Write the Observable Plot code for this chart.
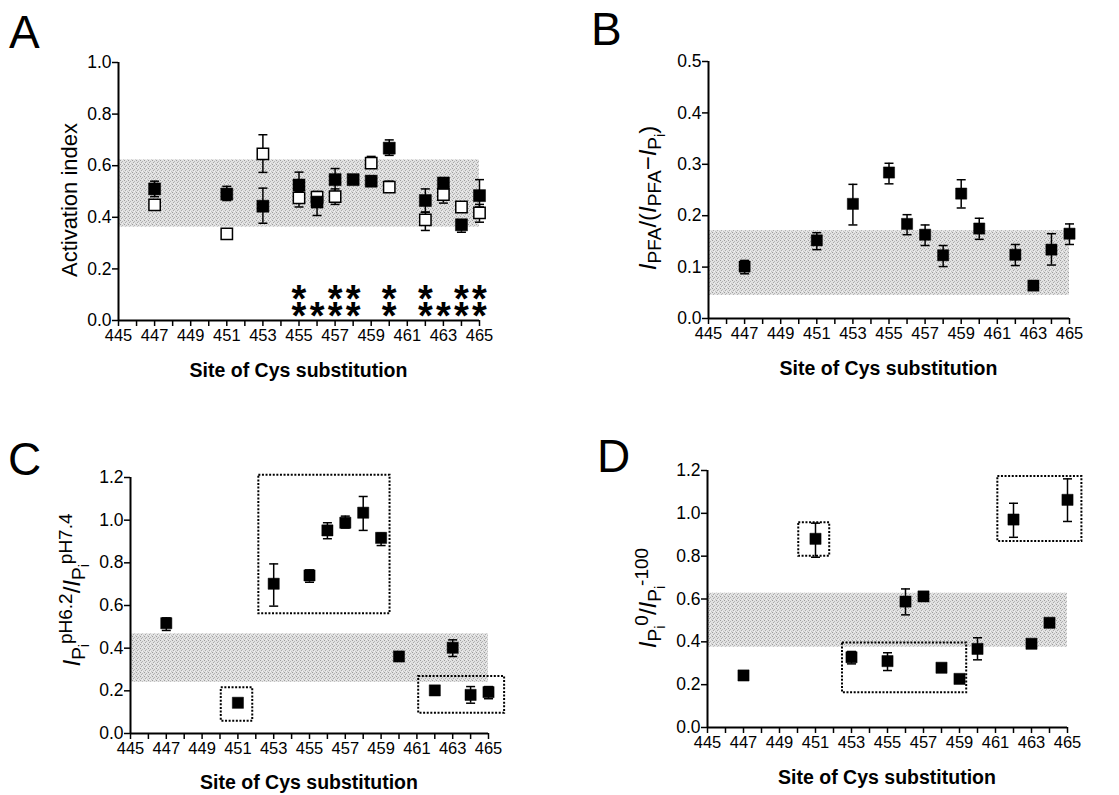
<!DOCTYPE html>
<html><head><meta charset="utf-8">
<script src="https://cdn.jsdelivr.net/npm/d3@7"></script>
<script src="https://cdn.jsdelivr.net/npm/@observablehq/plot@0.6"></script>
<style>
body{margin:0;background:#fff;}
#wrap{position:relative;width:1119px;height:795px;overflow:hidden;background:#fff;}
.panel{position:absolute;}
</style></head><body><div id="wrap"></div>
<script>
// ---------- data ----------
const siteTicks = d3.range(445, 466);

// Panel A: activation index (filled and open squares)
const sitesAf = [447, 451, 453, 455, 456, 457, 458, 459, 460, 462, 463, 464, 465];
const valAf   = [0.51, 0.49, 0.443, 0.525, 0.459, 0.546, 0.546, 0.54, 0.668, 0.465, 0.533, 0.371, 0.484];
const loAf    = [0.48, 0.465, 0.377, 0.49, 0.407, 0.50, null, 0.52, 0.64, 0.42, null, 0.342, 0.44];
const hiAf    = [0.54, 0.52, 0.513, 0.575, 0.50, 0.589, null, 0.56, 0.70, 0.51, null, 0.39, 0.546];
const sitesAo = [447, 451, 453, 455, 456, 457, 459, 460, 462, 463, 464, 465];
const valAo   = [0.448, 0.336, 0.646, 0.475, 0.478, 0.48, 0.61, 0.517, 0.39, 0.488, 0.44, 0.417];
const loAo    = [null, null, 0.574, 0.44, null, 0.45, 0.59, 0.497, 0.349, 0.455, null, 0.381];
const hiAo    = [null, null, 0.72, 0.50, null, 0.51, 0.636, 0.54, 0.42, 0.51, null, 0.45];
const starsTop    = [455, 457, 458, 460, 462, 464, 465];
const starsBottom = [455, 456, 457, 458, 460, 462, 463, 464, 465];

// Panel B
const sitesB = [447, 451, 453, 455, 456, 457, 458, 459, 460, 462, 463, 464, 465];
const valB   = [0.101, 0.152, 0.223, 0.284, 0.184, 0.163, 0.123, 0.243, 0.175, 0.124, 0.064, 0.134, 0.165];
const loB    = [0.087, 0.134, 0.182, 0.262, 0.163, 0.142, 0.101, 0.215, 0.154, 0.103, null, 0.104, 0.144];
const hiB    = [0.113, 0.167, 0.261, 0.302, 0.202, 0.182, 0.142, 0.27, 0.195, 0.144, null, 0.165, 0.184];

// Panel C
const sitesC = [447, 451, 453, 455, 456, 457, 458, 459, 460, 462, 463, 464, 465];
const valC   = [0.517, 0.144, 0.702, 0.741, 0.952, 0.988, 1.035, 0.917, 0.361, 0.202, 0.402, 0.181, 0.194];
const loC    = [0.483, null, 0.597, 0.709, 0.913, 0.963, 0.952, 0.881, null, null, 0.361, 0.142, 0.163];
const hiC    = [0.542, null, 0.795, 0.767, 0.988, 1.019, 1.111, 0.939, null, null, 0.439, 0.22, 0.22];
const boxC_x1 = [452.17, 450.07, 461.1];
const boxC_x2 = [459.5, 451.83, 465.9];
const boxC_y1 = [0.561, 0.058, 0.095];
const boxC_y2 = [1.21, 0.214, 0.267];

// Panel D
const sitesD = [447, 451, 453, 455, 456, 457, 458, 459, 460, 462, 463, 464, 465];
const valD   = [0.243, 0.881, 0.328, 0.31, 0.588, 0.612, 0.279, 0.227, 0.367, 0.971, 0.391, 0.489, 1.063];
const loD    = [null, 0.795, 0.297, 0.266, 0.526, 0.59, null, null, 0.316, 0.888, null, null, 0.962];
const hiD    = [null, 0.954, 0.355, 0.349, 0.647, 0.63, null, null, 0.419, 1.047, null, null, 1.161];
const boxD_x1 = [450.07, 461.13, 452.5];
const boxD_x2 = [451.79, 465.8, 459.4];
const boxD_y1 = [0.8, 0.868, 0.162];
const boxD_y2 = [0.956, 1.172, 0.394];

// Gray reference bands (A, B, C, D)
const bandLow  = [0.362, 0.045, 0.24, 0.375];
const bandHigh = [0.623, 0.171, 0.467, 0.627];
const bandStart = 445, bandEnd = 465;

// ---------- helpers ----------
const FONT = '"Liberation Sans", Arial, Helvetica, sans-serif';
const capSym = {draw(ctx){ ctx.moveTo(-4.5, 0); ctx.lineTo(4.5, 0); }};
const rowsOf = (s, v, lo, hi) => s.map((site, i) => ({site, v: v[i], lo: lo[i], hi: hi[i]}));
const boxesOf = (x1, x2, y1, y2) => x1.map((d, i) => ({x1: d, x2: x2[i], y1: y1[i], y2: y2[i]}));

function errorMarks(rows){
  const e = rows.filter(d => d.lo != null);
  const caps = e.flatMap(d => [{site: d.site, y: d.lo}, {site: d.site, y: d.hi}]);
  return [
    Plot.ruleX(e, {x: "site", y1: "lo", y2: "hi", stroke: "black", strokeWidth: 1.5}),
    Plot.dot(caps, {x: "site", y: "y", symbol: capSym, r: 5, fill: "none", stroke: "black", strokeWidth: 1.5})
  ];
}
function filledDots(rows, r){
  return Plot.dot(rows, {x: "site", y: "v", symbol: "square", r, fill: "black", stroke: "black", strokeWidth: 0.5});
}
function boxMarks(boxes){
  return Plot.rect(boxes, {x1: "x1", x2: "x2", y1: "y1", y2: "y2", fill: "none", stroke: "black", strokeWidth: 2, strokeDasharray: "2,1.6"});
}
function rich(textSel, segs){
  let cur = 0;
  segs.forEach(sg => {
    const t = textSel.append("tspan").text(sg.t).attr("font-size", sg.size);
    const sh = sg.shift || 0;
    t.attr("dy", sh - cur);
    cur = sh;
    if (sg.it) t.attr("font-style", "italic");
  });
}

const wrap = document.getElementById("wrap");

function panel(p){
  const svg = Plot.plot({
    width: p.width, height: p.height,
    marginLeft: p.ml, marginRight: p.mr, marginTop: p.mt, marginBottom: p.mb,
    x: {domain: [445, 465]}, y: {domain: p.ydom},
    style: {fontFamily: FONT, fontSize: "17px", color: "black", background: "transparent", overflow: "visible"},
    marks: [
      Plot.rect([{x1: bandStart, x2: bandEnd, lo: bandLow[p.k], hi: bandHigh[p.k]}],
        {x1: "x1", x2: "x2", y1: "lo", y2: "hi", fill: `url(#pat${p.k})`}),
      ...p.marks,
      Plot.ruleY([0], {stroke: "black", strokeWidth: 2}),
      Plot.ruleX([445], {stroke: "black", strokeWidth: 2}),
      Plot.axisX({ticks: siteTicks, tickFormat: d => d % 2 ? String(d) : "", tickSize: 6, tickPadding: 3, strokeWidth: 1.5, fontSize: 16.5, label: null}),
      Plot.axisY({ticks: p.yticks, tickFormat: d3.format(".1f"), tickSize: 6, tickPadding: 1, strokeWidth: 1.5, fontSize: 17.5, label: null})
    ]
  });
  const s = d3.select(svg);
  const defs = s.insert("defs", ":first-child");
  const pat = defs.append("pattern").attr("id", "pat" + p.k).attr("width", 4).attr("height", 4).attr("patternUnits", "userSpaceOnUse");
  pat.append("rect").attr("width", 4).attr("height", 4).attr("fill", "#e1e1e1");
  [[0,0,"#9c9c9c"],[2,1,"#b4b4b4"],[1,2,"#a8a8a8"],[3,3,"#c2c2c2"],[2,3,"#f0f0f0"]].forEach(([x,y,c]) =>
    pat.append("rect").attr("x", x).attr("y", y).attr("width", 1).attr("height", 1).attr("fill", c));
  // y label
  const yl = s.append("text").attr("transform", `translate(${p.ylx},${p.yly}) rotate(-90)`)
    .attr("text-anchor", "middle").attr("font-family", FONT).attr("fill", "black");
  rich(yl, p.ylabel);
  // x label
  s.append("text").attr("x", p.ml + (p.width - p.ml - p.mr) / 2).attr("y", p.xly)
    .attr("text-anchor", "middle").attr("font-family", FONT).attr("font-weight", "bold")
    .attr("font-size", 19.5).attr("fill", "black").text("Site of Cys substitution");
  // panel letter
  s.append("text").attr("x", p.lx).attr("y", p.ly).attr("text-anchor", "start").attr("font-family", FONT).attr("font-size", 46)
    .attr("fill", "black").text(p.letter);
  svg.classList.add("panel");
  svg.style.left = p.left + "px";
  svg.style.top = p.top + "px";
  wrap.appendChild(svg);
}

const rowsAf = rowsOf(sitesAf, valAf, loAf, hiAf);
const rowsAo = rowsOf(sitesAo, valAo, loAo, hiAo);
const rowsB = rowsOf(sitesB, valB, loB, hiB);
const rowsC = rowsOf(sitesC, valC, loC, hiC);
const rowsD = rowsOf(sitesD, valD, loD, hiD);

const M = 24, S = 19, SS = 14;

panel({k: 0, letter: "A", left: 0, top: 0, width: 560, height: 400, ml: 118, mr: 81, mt: 62, mb: 80,
  ydom: [0, 1], yticks: [0, 0.2, 0.4, 0.6, 0.8, 1.0],
  ylx: 77, yly: 200, ylabel: [{t: "Activation index", size: 22}], xly: 377, lx: 9, ly: 48,
  marks: [
    ...errorMarks(rowsAf), ...errorMarks(rowsAo),
    Plot.dot(rowsAo, {x: "site", y: "v", symbol: "square", r: 6.4, fill: "white", stroke: "black", strokeWidth: 1.5}),
    filledDots(rowsAf, 6.8),
    Plot.text(starsTop, {x: d => d, y: 0.116, text: () => "*", fontSize: 38, fontWeight: "bold", dy: 9, fill: "black"}),
    Plot.text(starsBottom, {x: d => d, y: 0.048, text: () => "*", fontSize: 38, fontWeight: "bold", dy: 9, fill: "black"})
  ]});

panel({k: 1, letter: "B", left: 560, top: 0, width: 559, height: 400, ml: 148, mr: 50, mt: 61, mb: 82,
  ydom: [0, 0.5], yticks: [0, 0.1, 0.2, 0.3, 0.4, 0.5],
  ylx: 96, yly: 198, xly: 375, lx: 31, ly: 45,
  ylabel: [{t: "I", size: M, it: true}, {t: "PFA", size: S, shift: 5}, {t: "/(", size: M}, {t: "I", size: M, it: true},
    {t: "PFA", size: S, shift: 5}, {t: "−", size: M}, {t: "I", size: M, it: true}, {t: "P", size: S, shift: 5},
    {t: "i", size: SS, shift: 9}, {t: ")", size: M}],
  marks: [...errorMarks(rowsB), filledDots(rowsB, 6.3)]});

panel({k: 2, letter: "C", left: 0, top: 400, width: 560, height: 395, ml: 130, mr: 72, mt: 77, mb: 62,
  ydom: [0, 1.2], yticks: [0, 0.2, 0.4, 0.6, 0.8, 1.0, 1.2],
  ylx: 80, yly: 190, xly: 389, lx: 8, ly: 75,
  ylabel: [{t: "I", size: M, it: true}, {t: "P", size: S, shift: 5}, {t: "i", size: SS, shift: 9}, {t: "pH6.2", size: S, shift: -8},
    {t: "/", size: M}, {t: "I", size: M, it: true}, {t: "P", size: S, shift: 5}, {t: "i", size: SS, shift: 9}, {t: "pH7.4", size: S, shift: -8}],
  marks: [boxMarks(boxesOf(boxC_x1, boxC_x2, boxC_y1, boxC_y2)), ...errorMarks(rowsC), filledDots(rowsC, 6.3)]});

panel({k: 3, letter: "D", left: 560, top: 400, width: 559, height: 395, ml: 147, mr: 52, mt: 70, mb: 68,
  ydom: [0, 1.2], yticks: [0, 0.2, 0.4, 0.6, 0.8, 1.0, 1.2],
  ylx: 96, yly: 198, xly: 384, lx: 37, ly: 72,
  ylabel: [{t: "I", size: M, it: true}, {t: "P", size: S, shift: 5}, {t: "i", size: SS, shift: 9}, {t: "0", size: S, shift: -8},
    {t: "/", size: M}, {t: "I", size: M, it: true}, {t: "P", size: S, shift: 5}, {t: "i", size: SS, shift: 9}, {t: "-100", size: S, shift: -8}],
  marks: [boxMarks(boxesOf(boxD_x1, boxD_x2, boxD_y1, boxD_y2)), ...errorMarks(rowsD), filledDots(rowsD, 6.3)]});
</script></body></html>
